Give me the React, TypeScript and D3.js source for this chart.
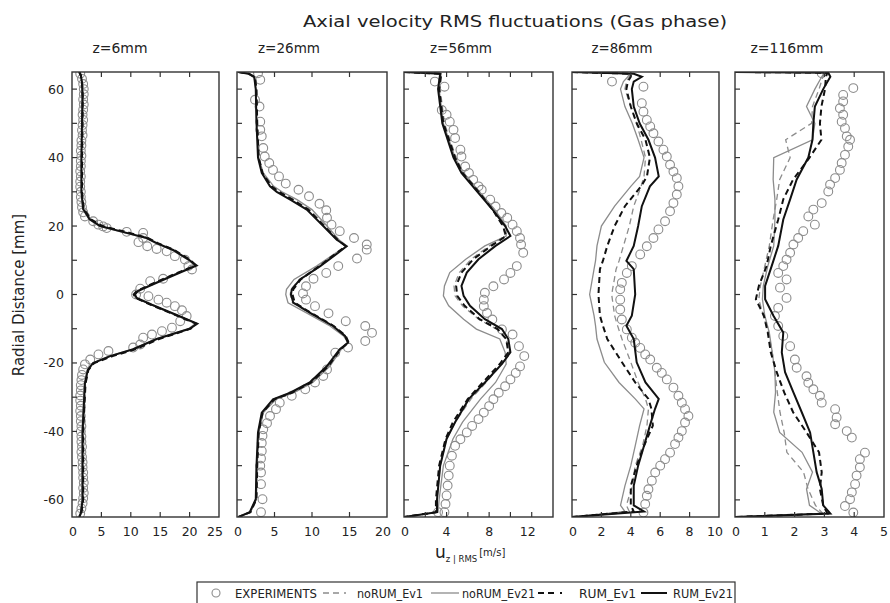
import React from 'react';
import * as d3 from 'd3';

// ---------- DATA ----------
const titleText = 'Axial velocity RMS fluctuations (Gas phase)';
const panelTitles = ['z=6mm', 'z=26mm', 'z=56mm', 'z=86mm', 'z=116mm'];
const xMax = [25, 20, 14, 10, 5];
const xTickValues = [
  [0, 5, 10, 15, 20, 25],
  [0, 5, 10, 15, 20],
  [0, 2, 4, 6, 8, 10, 12, 14],
  [0, 2, 4, 6, 8, 10],
  [0, 1, 2, 3, 4, 5],
];
const xLabelValues = [
  [0, 5, 10, 15, 20, 25],
  [0, 5, 10, 15, 20],
  [0, 4, 8, 12],
  [0, 2, 4, 6, 8, 10],
  [0, 1, 2, 3, 4, 5],
];
const yTickValues = [60, 50, 40, 30, 20, 10, 0, -10, -20, -30, -40, -50, -60];
const yLabelValues = [60, 40, 20, 0, -20, -40, -60];
const seriesNames = ['EXPERIMENTS', 'noRUM_Ev1', 'noRUM_Ev21', 'RUM_Ev1', 'RUM_Ev21'];

// z = 6 mm
const yGrid1 = [65, 64, 62, 58, 50, 40, 30, 25, 22, 20, 18, 16.5, 15, 13, 10, 8.5, 6, 3, 1, 0, -1, -3, -6, -8.5, -10, -13, -16, -18, -20, -22, -26, -40, -50, -60, -64, -65];
const z6_RUM_Ev21 = [1.2, 1.5, 1.7, 1.8, 1.7, 1.6, 1.6, 1.9, 3.0, 4.8, 9.3, 12.7, 14.4, 17.2, 20.0, 21.2, 17.8, 13.8, 11.2, 10.7, 11.0, 13.6, 17.8, 21.3, 20.0, 14.4, 10.4, 6.5, 3.6, 2.7, 2.2, 1.8, 1.8, 1.8, 1.5, 1.2];
const z6_RUM_Ev1 = [1.3, 1.5, 1.7, 1.8, 1.8, 1.7, 1.7, 2.0, 3.2, 5.2, 9.8, 12.9, 14.6, 17.4, 20.2, 21.0, 17.5, 13.5, 11.0, 10.5, 10.8, 13.4, 17.6, 21.1, 20.2, 14.8, 10.8, 6.9, 3.8, 2.8, 2.3, 1.9, 1.9, 1.9, 1.6, 1.3];
const z6_noRUM_Ev1 = [1.3, 1.6, 1.8, 1.9, 1.8, 1.7, 1.7, 2.0, 3.1, 5.0, 9.6, 12.8, 14.5, 17.3, 20.1, 21.1, 17.6, 13.6, 11.1, 10.6, 10.9, 13.5, 17.7, 21.2, 20.1, 14.6, 10.6, 6.7, 3.7, 2.8, 2.3, 1.9, 1.9, 1.9, 1.6, 1.3];
const z6_noRUM_Ev21 = [1.2, 1.5, 1.7, 1.7, 1.7, 1.6, 1.6, 1.8, 2.9, 4.6, 9.0, 12.5, 14.2, 17.0, 19.8, 21.0, 17.6, 13.6, 11.0, 10.5, 10.8, 13.4, 17.6, 21.0, 19.8, 14.2, 10.2, 6.3, 3.5, 2.6, 2.1, 1.7, 1.7, 1.7, 1.4, 1.2];
const z6_exp = [
  [64.5, 1.4], [63, 1.7], [61.5, 1.9], [60, 2.0], [58.5, 2.0], [57, 1.9], [55.5, 2.0], [54, 1.9], [52.5, 1.8], [51, 1.9],
  [49.5, 1.8], [48, 1.7], [46.5, 1.8], [45, 1.6], [43.5, 1.6], [42, 1.5], [40.5, 1.6], [39, 1.5], [37.5, 1.5], [36, 1.4],
  [34.5, 1.5], [33, 1.4], [31.5, 1.4], [30, 1.5], [28.5, 1.5], [27, 1.6], [25.5, 1.7], [24, 1.9], [22.8, 2.2], [21.4, 3.6],
  [20.4, 4.5], [19.9, 5.3], [19.4, 5.9], [18.3, 9.3], [18.0, 12.1], [16.5, 12.1], [15.3, 11.3], [14.1, 12.8], [13.3, 14.4], [12.6, 16.1],
  [11.2, 17.5], [10.2, 19.2], [8.3, 19.8], [7.3, 20.4], [4.6, 15.5], [3.9, 13.3], [1.7, 11.6], [0, 10.9], [-0.5, 13.0], [-1.5, 14.7],
  [-2.4, 16.1], [-3.4, 17.5], [-4.6, 18.7], [-6.3, 19.5], [-7.8, 18.4], [-9.7, 17.0], [-10.7, 15.3], [-11.7, 13.6], [-12.6, 12.1], [-14.6, 11.6],
  [-15.5, 10.4], [-16.5, 6.2], [-17.5, 4.5], [-19, 3.1], [-20.4, 2.2], [-21.9, 1.9], [-23.5, 1.7], [-25, 1.6], [-26.5, 1.5], [-28, 1.5],
  [-29.5, 1.4], [-31, 1.4], [-32.5, 1.5], [-34, 1.4], [-35.5, 1.5], [-37, 1.5], [-38.5, 1.6], [-40, 1.5], [-41.5, 1.6], [-43, 1.6],
  [-44.5, 1.7], [-46, 1.6], [-47.5, 1.7], [-49, 1.8], [-50.5, 1.8], [-52, 1.9], [-53.5, 1.9], [-55, 2.0], [-56.5, 1.9], [-58, 2.0],
  [-59.5, 1.9], [-61, 1.8], [-62.5, 1.6], [-64, 1.4],
];

// z = 26 mm
const yGrid2 = [65, 64.5, 63.5, 60, 50, 40, 35.5, 31.6, 30, 27.7, 24.8, 20, 16, 14.1, 12.2, 8.3, 4.4, 1.5, 0, -2.4, -5.3, -9.2, -12.1, -14.1, -16, -20.9, -25.7, -28.7, -30.6, -34.5, -40.3, -50, -59.8, -63.6, -65];
const z26_RUM_Ev21 = [0.2, 1.5, 2.3, 2.5, 2.6, 2.8, 3.3, 4.4, 5.3, 7.1, 9.3, 11.5, 13.3, 14.6, 13.5, 11.1, 8.4, 7.3, 7.2, 7.5, 9.7, 12.8, 14.4, 14.8, 13.7, 12.0, 9.7, 7.1, 4.8, 3.3, 2.8, 2.6, 2.5, 1.7, 0.2];
const z26_RUM_Ev1 = [0.2, 1.6, 2.4, 2.6, 2.7, 2.9, 3.4, 4.6, 5.6, 7.4, 9.5, 11.6, 13.4, 14.5, 13.3, 11.0, 8.5, 7.5, 7.4, 7.7, 9.8, 12.9, 14.5, 14.9, 13.8, 12.2, 9.9, 7.3, 5.0, 3.4, 2.9, 2.7, 2.6, 1.8, 0.2];
const z26_noRUM_Ev1 = [0.2, 1.6, 2.4, 2.6, 2.7, 2.9, 3.4, 4.7, 5.7, 7.6, 9.7, 11.8, 13.5, 14.6, 13.4, 10.9, 8.3, 7.2, 7.1, 7.4, 9.6, 12.7, 14.4, 14.8, 13.8, 12.3, 10.0, 7.5, 5.1, 3.5, 2.9, 2.7, 2.6, 1.8, 0.2];
const z26_noRUM_Ev21 = [0.2, 1.5, 2.3, 2.5, 2.6, 2.9, 3.5, 4.9, 6.0, 8.0, 10.0, 12.0, 13.6, 14.7, 13.2, 10.6, 7.6, 6.6, 6.5, 6.8, 9.2, 12.4, 14.2, 14.8, 13.9, 12.4, 10.1, 7.6, 5.2, 3.5, 2.9, 2.6, 2.5, 1.7, 0.2];
const z26_exp = [
  [64.6, 2.8], [62.7, 3.1], [56.9, 2.4], [54.9, 3.0], [50.5, 3.1], [48.1, 3.1], [46.2, 3.3], [42.8, 3.5], [40.3, 3.7], [38.4, 4.3],
  [36.4, 4.8], [34.5, 5.6], [32.4, 6.5], [30.6, 8.2], [28.7, 9.6], [26.5, 11.0], [24.6, 11.9], [22.4, 12.0], [20.4, 12.6], [18.5, 13.7],
  [16.5, 15.6], [14.6, 17.3], [13.1, 17.3], [10.5, 16.0], [8.3, 13.5], [6.3, 11.9], [4.6, 10.2], [2.4, 9.2], [0.3, 8.8], [-1.5, 9.2],
  [-3.4, 10.4], [-5.5, 12.2], [-7.8, 14.5], [-9.2, 17.1], [-11.2, 18.0], [-13.6, 17.1], [-15.5, 14.8], [-17, 13.1], [-21.9, 12.0], [-23.8, 11.5],
  [-25.7, 10.4], [-27.7, 9.1], [-29.6, 7.3], [-31.6, 5.7], [-33.5, 5.2], [-35.5, 4.4], [-37.6, 4.0], [-39.4, 3.5], [-41.3, 3.4], [-43.4, 3.3],
  [-45.7, 3.3], [-47.9, 3.2], [-50, 3.1], [-52, 3.2], [-55.4, 3.2], [-59.8, 3.4], [-63.6, 3.2],
];

// z = 56 mm
const yGrid3 = [65, 64.5, 60, 50, 40, 35.5, 30, 24.9, 20, 17.1, 14.2, 10.3, 6.4, 2.5, -0.4, -3.3, -7.2, -10.1, -13, -16.9, -20.3, -25.7, -30.5, -37.3, -42.2, -50, -59.9, -63.6, -65];
const z56_RUM_Ev21 = [0, 3.4, 3.2, 3.6, 4.65, 5.4, 6.9, 8.3, 9.5, 10.0, 8.6, 7.0, 5.9, 5.4, 5.6, 6.2, 7.6, 9.2, 9.8, 10.0, 9.2, 7.6, 6.1, 4.8, 4.0, 3.4, 3.1, 3.1, 0];
const z56_RUM_Ev1 = [0, 3.5, 3.3, 3.7, 4.8, 5.5, 7.0, 8.3, 9.3, 9.6, 8.2, 6.5, 5.4, 4.9, 5.0, 5.7, 7.1, 8.8, 9.6, 9.8, 9.0, 7.4, 6.0, 4.6, 3.9, 3.3, 3.0, 3.0, 0];
const z56_noRUM_Ev1 = [0, 3.5, 3.4, 3.8, 4.9, 5.6, 7.1, 8.4, 9.3, 9.5, 8.0, 6.3, 5.2, 4.7, 4.8, 5.5, 7.0, 8.7, 9.6, 9.9, 9.2, 7.7, 6.3, 4.8, 4.0, 3.4, 3.1, 3.1, 0];
const z56_noRUM_Ev21 = [0, 3.5, 3.3, 3.7, 4.8, 5.6, 7.1, 8.5, 9.6, 9.6, 7.6, 5.8, 4.3, 3.8, 3.7, 4.2, 5.6, 6.8, 9.0, 9.5, 9.6, 8.6, 7.2, 5.5, 4.6, 3.7, 3.3, 3.2, 0];
const z56_exp = [
  [62.2, 2.9], [60.7, 3.8], [53.9, 3.55], [52.5, 4.0], [50.5, 4.3], [48.1, 4.65], [45.7, 4.8], [42.3, 5.3], [40.3, 5.4], [37.4, 5.75],
  [35.5, 6.1], [33.5, 6.5], [31.6, 7.0], [30.6, 7.3], [27.7, 8.1], [25.7, 8.6], [23.8, 9.15], [22.4, 9.7], [20.4, 10.2], [18.5, 10.6],
  [16.5, 10.9], [14.6, 11.0], [12.2, 11.2], [8.3, 10.6], [6.3, 10.0], [4.4, 9.4], [2.4, 8.4], [0.5, 7.6], [-1.5, 7.5], [-3.4, 7.5],
  [-5.4, 7.8], [-7.3, 8.3], [-10.2, 9.2], [-11.7, 10.2], [-15.1, 10.8], [-18, 11.3], [-21, 10.9], [-22.9, 10.5], [-24.8, 10.0], [-26.8, 9.5],
  [-28.7, 8.9], [-30.6, 8.4], [-32.6, 8.0], [-34.5, 7.5], [-36.4, 7.0], [-38.4, 6.4], [-40.3, 5.9], [-42.3, 5.3], [-44.2, 4.8], [-47.1, 4.5],
  [-50, 4.3], [-52.9, 4.2], [-55.8, 4.1], [-58.7, 4.0], [-61.2, 3.9], [-63.6, 3.8], [-63.6, 3.2],
];

// z = 86 mm
const yGrid4 = [65, 64.5, 63.6, 62.2, 60, 54.9, 50, 45.2, 40, 34.5, 31.6, 25.8, 20, 14.2, 9.8, 7.4, 0, -6.2, -9.1, -13, -19.8, -25.7, -30.5, -33.4, -38.3, -44.2, -50, -55.9, -61.6, -63.4, -65];
const z86_RUM_Ev21 = [0, 4.2, 4.75, 4.2, 4.07, 4.2, 4.6, 5.2, 5.65, 5.9, 5.3, 4.75, 4.5, 4.2, 3.7, 4.2, 4.3, 4.07, 3.7, 4.2, 4.4, 5.0, 5.9, 5.65, 5.3, 4.9, 4.5, 4.2, 4.2, 4.9, 0];
const z86_noRUM_Ev21 = [0, 3.9, 3.8, 3.5, 3.3, 3.6, 4.1, 4.5, 4.9, 4.6, 4.0, 2.9, 2.0, 1.7, 1.6, 1.5, 1.2, 1.5, 1.6, 1.7, 2.2, 3.2, 4.3, 4.9, 4.6, 4.3, 4.0, 3.6, 3.3, 3.6, 0];
const z86_RUM_Ev1 = [0, 4.0, 4.0, 3.8, 3.7, 4.0, 4.4, 5.0, 5.3, 5.1, 4.7, 3.6, 2.9, 2.4, 2.1, 1.9, 1.8, 1.9, 2.1, 2.4, 3.4, 4.3, 5.2, 5.4, 5.5, 4.9, 4.4, 4.0, 4.0, 4.2, 0];
const z86_noRUM_Ev1 = [0, 4.0, 3.9, 3.7, 3.6, 4.0, 4.4, 4.7, 5.0, 4.9, 4.7, 4.2, 3.9, 3.5, 3.2, 3.0, 2.7, 2.9, 3.1, 3.4, 4.0, 4.5, 5.0, 5.2, 5.1, 4.8, 4.3, 4.1, 3.7, 3.9, 0];
const z86_exp = [
  [62.2, 2.72], [60.7, 4.86], [55.9, 4.75], [53.4, 4.86], [51.0, 5.09], [49.1, 5.32], [47.1, 5.54], [44.7, 5.88], [42.3, 6.22], [40.3, 6.45],
  [37.9, 6.67], [35.9, 6.9], [34.0, 7.13], [31.6, 7.24], [29.2, 7.13], [26.7, 6.9], [24.3, 6.67], [21.4, 6.33], [19.0, 5.88], [16.5, 5.54],
  [14.1, 5.09], [11.7, 4.64], [8.3, 4.07], [6.3, 3.73], [3.4, 3.39], [1.5, 3.28], [-1.5, 3.28], [-4.4, 3.28], [-7.3, 3.39], [-10.2, 3.73],
  [-12.6, 4.07], [-14.1, 4.3], [-15.6, 4.64], [-17.5, 4.98], [-19.0, 5.32], [-21.4, 5.77], [-22.9, 6.11], [-24.8, 6.45], [-27.2, 6.9], [-29.6, 7.24],
  [-31.6, 7.47], [-33.5, 7.69], [-35.5, 7.92], [-37.4, 7.69], [-39.9, 7.47], [-41.8, 7.24], [-43.7, 7.01], [-46.2, 6.67], [-48.1, 6.33], [-50, 6.0],
  [-52, 5.66], [-54.4, 5.43], [-56.9, 5.2], [-58.8, 5.09], [-61.2, 4.98], [-63.7, 4.86],
];

// z = 116 mm
const yGrid5 = [65, 64.8, 63.6, 60, 54.9, 50, 45.2, 40, 33.6, 27.8, 21.9, 14.2, 8.3, 2.5, -1.4, -6.2, -11.1, -16.9, -22.7, -28.6, -34.4, -40.3, -46.1, -51.9, -56.8, -61.6, -64, -65];
const z116_RUM_Ev21 = [0, 3.13, 3.2, 2.96, 2.68, 2.63, 2.6, 2.46, 2.07, 1.85, 1.62, 1.45, 1.23, 1.01, 1.01, 1.29, 1.62, 1.57, 1.68, 1.96, 2.24, 2.52, 2.63, 2.74, 2.91, 2.96, 3.2, 0];
const z116_noRUM_Ev21 = [0, 3.0, 2.91, 2.68, 2.4, 2.68, 2.6, 1.3, 1.28, 1.34, 1.34, 1.3, 1.1, 0.95, 0.92, 1.0, 1.15, 1.25, 1.34, 1.36, 1.3, 1.5, 2.25, 2.6, 2.4, 2.5, 2.9, 0];
const z116_noRUM_Ev1 = [0, 3.0, 2.95, 2.82, 2.6, 2.57, 1.7, 1.85, 1.5, 1.4, 1.28, 1.15, 1.0, 0.85, 0.8, 0.95, 1.12, 1.25, 1.34, 1.42, 1.51, 1.65, 1.74, 2.3, 2.45, 2.7, 2.95, 0];
const z116_RUM_Ev1 = [0, 3.1, 3.05, 3.02, 2.9, 2.85, 2.9, 2.5, 1.95, 1.62, 1.45, 1.2, 1.06, 0.8, 0.7, 0.97, 1.1, 1.2, 1.4, 1.65, 1.95, 2.4, 2.82, 2.91, 2.85, 2.96, 3.1, 0];
const z116_exp = [
  [64.6, 2.91], [60.3, 3.97], [58.3, 3.63], [56.4, 3.63], [54.4, 3.52], [52.5, 3.63], [50.5, 3.58], [48.6, 3.69], [46.2, 3.75], [45.2, 3.86],
  [43.2, 3.8], [40.8, 3.69], [38.4, 3.58], [36.4, 3.52], [34.0, 3.36], [32.1, 3.19], [30.1, 3.13], [26.7, 2.91], [24.8, 2.63], [22.8, 2.46],
  [20.4, 2.68], [18.5, 2.29], [16.5, 2.12], [14.6, 1.96], [12.2, 1.85], [10.2, 1.73], [8.3, 1.62], [6.3, 1.45], [4.4, 1.73], [2.0, 1.51],
  [-1.0, 1.73], [-3.9, 1.45], [-6.3, 1.34], [-9.2, 1.45], [-12.1, 1.62], [-15.1, 1.85], [-19, 2.01], [-21.4, 2.07], [-23.9, 2.4], [-25.8, 2.46],
  [-27.7, 2.63], [-29.6, 2.85], [-31.6, 2.91], [-33.5, 3.36], [-35.9, 3.41], [-37.9, 3.36], [-39.9, 3.75], [-41.8, 3.92], [-46.2, 4.36], [-48.1, 4.19],
  [-50.5, 4.19], [-52.9, 4.08], [-55.4, 4.03], [-57.8, 3.92], [-59.8, 3.86], [-61.8, 3.69], [-63.7, 3.97],
];

const panelsData = [
  { grid: yGrid1, exp: z6_exp, noRUM_Ev1: z6_noRUM_Ev1, noRUM_Ev21: z6_noRUM_Ev21, RUM_Ev1: z6_RUM_Ev1, RUM_Ev21: z6_RUM_Ev21 },
  { grid: yGrid2, exp: z26_exp, noRUM_Ev1: z26_noRUM_Ev1, noRUM_Ev21: z26_noRUM_Ev21, RUM_Ev1: z26_RUM_Ev1, RUM_Ev21: z26_RUM_Ev21 },
  { grid: yGrid3, exp: z56_exp, noRUM_Ev1: z56_noRUM_Ev1, noRUM_Ev21: z56_noRUM_Ev21, RUM_Ev1: z56_RUM_Ev1, RUM_Ev21: z56_RUM_Ev21 },
  { grid: yGrid4, exp: z86_exp, noRUM_Ev1: z86_noRUM_Ev1, noRUM_Ev21: z86_noRUM_Ev21, RUM_Ev1: z86_RUM_Ev1, RUM_Ev21: z86_RUM_Ev21 },
  { grid: yGrid5, exp: z116_exp, noRUM_Ev1: z116_noRUM_Ev1, noRUM_Ev21: z116_noRUM_Ev21, RUM_Ev1: z116_RUM_Ev1, RUM_Ev21: z116_RUM_Ev21 },
];

// ---------- LAYOUT ----------
const W = 890;
const H = 603;
const panelLeft = [72, 237, 404, 572, 735];
const panelRight = [219, 387, 553, 719, 884];
const subtitleCenter = [120, 289, 461, 622, 787];
const subtitleWidth = [55, 62, 62, 61, 73];
const plotTop = 72;
const plotBottom = 517;
const FONT = '"DejaVu Sans", Verdana, sans-serif';
const GRAY = '#8c8c8c';
const DASH = '6,4';

const yScale = d3.scaleLinear().domain([-65, 65]).range([plotBottom, plotTop]);

function Panel({ i }: { i: number }) {
  const d = panelsData[i];
  const x = d3.scaleLinear().domain([0, xMax[i]]).range([panelLeft[i], panelRight[i]]);
  const line = d3
    .line<[number, number]>()
    .x((p) => x(p[1]))
    .y((p) => yScale(p[0]))
    .curve(d3.curveLinear);
  const toPts = (arr: number[]) => d.grid.map((yv, k) => [yv, arr[k]] as [number, number]);
  const clipId = `clip${i}`;
  const nTicks = xTickValues[i].length;
  return (
    <g>
      <defs>
        <clipPath id={clipId}>
          <rect x={panelLeft[i]} y={plotTop} width={panelRight[i] - panelLeft[i]} height={plotBottom - plotTop} />
        </clipPath>
      </defs>
      <text
        x={subtitleCenter[i] - subtitleWidth[i] / 2}
        y={53}
        textLength={subtitleWidth[i]}
        lengthAdjust="spacingAndGlyphs"
        fontSize={14}
        fontFamily={FONT}
        fill="#222"
      >
        {panelTitles[i]}
      </text>
      <g clipPath={`url(#${clipId})`}>
        {d.exp.map((p, k) => (
          <circle key={k} cx={x(p[1])} cy={yScale(p[0])} r={4.4} fill="none" stroke={GRAY} strokeWidth={1.1} />
        ))}
        <path d={line(toPts(d.noRUM_Ev21)) || ''} fill="none" stroke={GRAY} strokeWidth={1.3} />
        <path d={line(toPts(d.noRUM_Ev1)) || ''} fill="none" stroke={GRAY} strokeWidth={1.3} strokeDasharray={DASH} />
        <path d={line(toPts(d.RUM_Ev1)) || ''} fill="none" stroke="#111" strokeWidth={2} strokeDasharray={DASH} />
        <path d={line(toPts(d.RUM_Ev21)) || ''} fill="none" stroke="#111" strokeWidth={2} />
      </g>
      <rect
        x={panelLeft[i]}
        y={plotTop}
        width={panelRight[i] - panelLeft[i]}
        height={plotBottom - plotTop}
        fill="none"
        stroke="#333"
        strokeWidth={1.4}
      />
      {yTickValues.map((v) => (
        <line key={'yt' + v} x1={panelLeft[i]} x2={panelLeft[i] + 5} y1={yScale(v)} y2={yScale(v)} stroke="#333" strokeWidth={1.2} />
      ))}
      {xTickValues[i].map((v, k) =>
        k === 0 || k === nTicks - 1 ? null : (
          <g key={'xt' + v}>
            <line x1={x(v)} x2={x(v)} y1={plotTop} y2={plotTop + 5} stroke="#333" strokeWidth={1.2} />
            <line x1={x(v)} x2={x(v)} y1={plotBottom} y2={plotBottom - 5} stroke="#333" strokeWidth={1.2} />
          </g>
        )
      )}
      {xLabelValues[i].map((v, k) => {
        const last = k === xLabelValues[i].length - 1 && i < 4;
        return (
          <text
            key={'xl' + v}
            x={x(v) + (last ? -4 : 0) + (k === 0 ? 1 : 0)}
            y={536}
            textAnchor="middle"
            fontSize={12.5}
            fontFamily={FONT}
            fill="#222"
          >
            {String(v)}
          </text>
        );
      })}
      {i === 0 &&
        yLabelValues.map((v) => (
          <text key={'yl' + v} x={64} y={yScale(v) + 4.5} textAnchor="end" fontSize={12.5} fontFamily={FONT} fill="#222">
            {String(v)}
          </text>
        ))}
    </g>
  );
}

const legendTextX = [235, 357, 462, 579, 673];
const legendTextW = [82, 66, 73, 57, 60];

function Legend() {
  const y = 594;
  return (
    <g fontFamily={FONT} fontSize={12} fill="#222">
      <rect x={197} y={582} width={538} height={26} fill="white" stroke="#333" strokeWidth={1.2} />
      <circle cx={216} cy={y - 1} r={4} fill="none" stroke={GRAY} strokeWidth={1.1} />
      <line x1={323} x2={353} y1={y - 1} y2={y - 1} stroke={GRAY} strokeWidth={1.3} strokeDasharray="6,4,6,5,2,7" />
      <line x1={431} x2={459} y1={y - 1} y2={y - 1} stroke={GRAY} strokeWidth={1.3} />
      <line x1={538} x2={573} y1={y - 1} y2={y - 1} stroke="#111" strokeWidth={2} strokeDasharray="6,4,6,6,2,11" />
      <line x1={641} x2={667} y1={y - 1} y2={y - 1} stroke="#111" strokeWidth={2} />
      {seriesNames.map((s, k) => (
        <text key={s} x={legendTextX[k]} y={y + 3.5} textLength={legendTextW[k]} lengthAdjust="spacingAndGlyphs">
          {s}
        </text>
      ))}
    </g>
  );
}

export default function App() {
  return (
    <div style={{ position: 'absolute', left: 0, top: 0, width: W, height: H, background: 'white' }}>
      <svg width={W} height={H} viewBox={`0 0 ${W} ${H}`} style={{ display: 'block' }}>
        <rect x={0} y={0} width={W} height={H} fill="white" />
        <text x={303} y={27} textLength={424} lengthAdjust="spacingAndGlyphs" fontSize={16} fontFamily={FONT} fill="#222">
          {titleText}
        </text>
        <text
          transform={`translate(24, 295) rotate(-90)`}
          textAnchor="middle"
          fontSize={15}
          fontFamily={FONT}
          fill="#222"
        >
          Radial Distance [mm]
        </text>
        {panelsData.map((_, i) => (
          <Panel key={i} i={i} />
        ))}
        <text x={435} y={558} fontFamily={FONT} fill="#222">
          <tspan fontSize={17}>u</tspan>
          <tspan fontSize={8.5} dy={4}>z | RMS</tspan>
          <tspan fontSize={10} dy={-6} dx={2}>[m/s]</tspan>
        </text>
        <Legend />
      </svg>
    </div>
  );
}
